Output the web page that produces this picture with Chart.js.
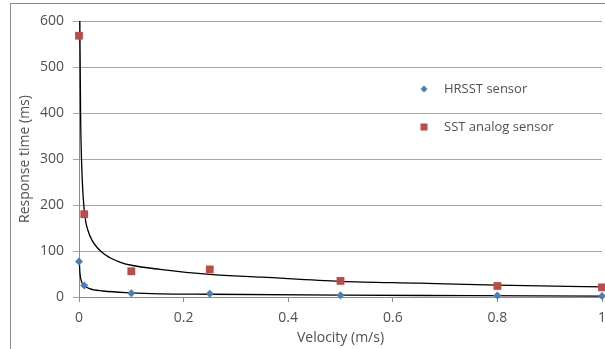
<!DOCTYPE html>
<html>
<head>
<meta charset="utf-8">
<style>
  html, body { margin: 0; padding: 0; overflow: hidden; background: #fff; }
  #wrap { width: 640px; height: 349px; }
</style>
<script src="https://cdn.jsdelivr.net/npm/chart.js@4"></script>
</head>
<body>
<div id="wrap"><canvas id="myChart" width="640" height="349"></canvas></div>
<script>
// measured points
const velocity = [0, 0.01, 0.1, 0.25, 0.5, 0.8, 1];
const hrsstTime = [77, 25, 8, 7, 4, 3, 2];
const sstTime = [568, 180, 56, 60, 35, 24, 21];

// trend lines
const sstTrendV = [0.0016, 0.003, 0.005, 0.008, 0.012, 0.017, 0.025, 0.035, 0.05, 0.078, 0.1, 0.155, 0.25, 0.35, 0.5, 0.65, 0.8, 1];
const sstTrendT = [600, 400, 291, 217, 170, 145, 123, 107, 92, 76, 69, 60, 49, 43, 34, 30, 26, 22];
const hrsstTrendV = [0.0005, 0.002, 0.005, 0.01, 0.02, 0.046, 0.1, 0.155, 0.25, 0.5, 0.75, 1];
const hrsstTrendT = [78, 50, 33, 25, 18, 13, 9, 7, 6, 4, 3, 2];

const seriesNames = ['HRSST sensor', 'SST analog sensor'];
const yTicks = [0, 100, 200, 300, 400, 500, 600];

const pairs = (xs, ys) => xs.map((x, i) => ({ x: x, y: ys[i] }));

const textColor = '#505050';
const font = 'Open Sans';

// draws the outer frame and the legend inside the plot
const extras = {
    id: 'extras',
    afterDraw(chart) {
        const ctx = chart.ctx;
        ctx.save();
        ctx.strokeStyle = '#8c8c8c';
        ctx.lineWidth = 1;
        ctx.strokeRect(10.5, 3.5, 700, 400);

        const items = chart.data.datasets.filter(d => d.inLegend);
        items.forEach((d, i) => {
            const y = 89 + i * 38;
            ctx.fillStyle = d.backgroundColor;
            ctx.beginPath();
            if (d.pointStyle === 'rectRot') {
                ctx.moveTo(424, y - 3.5);
                ctx.lineTo(427.5, y);
                ctx.lineTo(424, y + 3.5);
                ctx.lineTo(420.5, y);
                ctx.closePath();
            } else {
                ctx.rect(420.5, y - 3.5, 7, 7);
            }
            ctx.fill();
            ctx.fillStyle = textColor;
            ctx.font = '13px "' + font + '"';
            ctx.textBaseline = 'middle';
            ctx.fillText(d.label, 444, y);
        });
        ctx.restore();
    }
};

const ctx = document.getElementById('myChart').getContext('2d');
// eslint-disable-next-line no-undef
new Chart(ctx, {
    type: 'scatter',
    data: {
        datasets: [
            {
                label: seriesNames[0],
                inLegend: true,
                data: pairs(velocity, hrsstTime),
                pointStyle: 'rectRot',
                pointRadius: 4,
                backgroundColor: '#4A7EBB',
                borderColor: '#4A7EBB',
                borderWidth: 0,
                clip: false,
                order: 1
            },
            {
                label: seriesNames[1],
                inLegend: true,
                data: pairs(velocity, sstTime),
                pointStyle: 'rect',
                pointRadius: 5.5,
                backgroundColor: '#BE4B48',
                borderColor: '#BE4B48',
                borderWidth: 0,
                clip: false,
                order: 2
            },
            {
                label: 'HRSST trend',
                data: pairs(hrsstTrendV, hrsstTrendT),
                showLine: true,
                pointRadius: 0,
                borderColor: '#000',
                borderWidth: 1.3,
                cubicInterpolationMode: 'monotone',
                order: 3
            },
            {
                label: 'SST trend',
                data: pairs(sstTrendV, sstTrendT),
                showLine: true,
                pointRadius: 0,
                borderColor: '#000',
                borderWidth: 1.3,
                cubicInterpolationMode: 'monotone',
                order: 4
            }
        ]
    },
    options: {
        responsive: false,
        animation: false,
        layout: { padding: { left: 10, top: 21, right: 38, bottom: 0 } },
        plugins: {
            legend: { display: false },
            tooltip: { enabled: false }
        },
        scales: {
            x: {
                type: 'linear',
                min: 0,
                max: 1,
                afterFit: s => { s.height = 52; },
                ticks: {
                    stepSize: 0.2,
                    padding: 8,
                    color: textColor,
                    font: { family: font, size: 14 },
                    callback: v => String(+v.toFixed(1))
                },
                grid: {
                    drawOnChartArea: false,
                    drawTicks: true,
                    tickLength: 5,
                    color: '#8c8c8c'
                },
                border: { color: '#8c8c8c' },
                title: {
                    display: true,
                    text: 'Velocity (m/s)',
                    color: textColor,
                    font: { family: font, size: 14 },
                    padding: { top: 0, bottom: 3 }
                }
            },
            y: {
                type: 'linear',
                min: 0,
                max: 600,
                afterFit: s => { s.width = 69; },
                afterBuildTicks: s => { s.ticks = yTicks.map(v => ({ value: v })); },
                ticks: {
                    padding: 9,
                    color: textColor,
                    font: { family: font, size: 14 }
                },
                grid: {
                    color: '#a6a6a6',
                    tickLength: 6
                },
                border: { color: '#8c8c8c' },
                title: {
                    display: true,
                    text: 'Response time (ms)',
                    color: textColor,
                    font: { family: font, size: 14 },
                    padding: { top: 7, bottom: 0 }
                }
            }
        }
    },
    plugins: [extras]
});
</script>
</body>
</html>
